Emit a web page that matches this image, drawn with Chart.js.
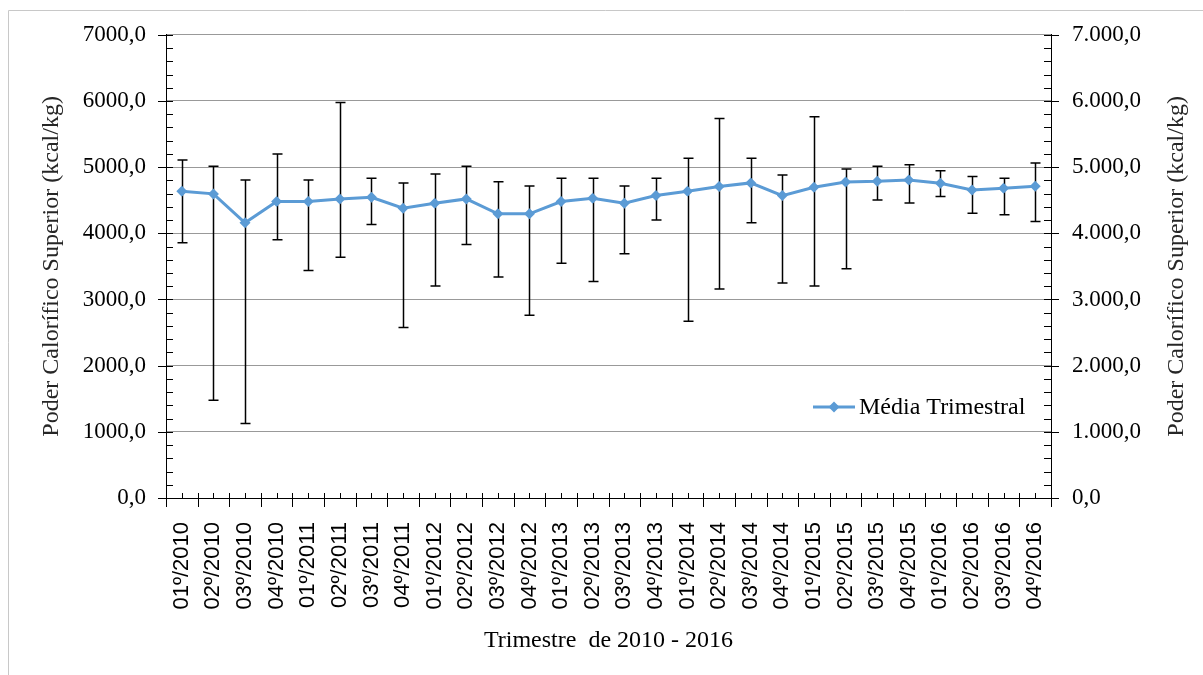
<!DOCTYPE html>
<html>
<head>
<meta charset="utf-8">
<script src="https://cdn.jsdelivr.net/npm/chart.js@4"></script>
<style>
  html, body { margin: 0; padding: 0; background: #fff; }
  #wrap { width: 1203px; height: 675px; }
</style>
</head>
<body>
<div id="wrap"><canvas id="grafico" width="1203" height="675"></canvas></div>
<script>
// trimestres 2010 - 2016
const trimestres = [
  "01º/2010", "02º/2010", "03º/2010", "04º/2010",
  "01º/2011", "02º/2011", "03º/2011", "04º/2011",
  "01º/2012", "02º/2012", "03º/2012", "04º/2012",
  "01º/2013", "02º/2013", "03º/2013", "04º/2013",
  "01º/2014", "02º/2014", "03º/2014", "04º/2014",
  "01º/2015", "02º/2015", "03º/2015", "04º/2015",
  "01º/2016", "02º/2016", "03º/2016", "04º/2016",
];
const mediaTrimestral = [
  4635, 4596, 4158, 4480, 4480, 4520, 4545, 4379, 4454, 4520, 4294, 4294, 4480, 4530,
  4454, 4570, 4635, 4706, 4762, 4570, 4696, 4776, 4786, 4807, 4756, 4656, 4681, 4711,
];
const erroMax = [
  5108, 5012, 4807, 5199, 4807, 5977, 4831, 4762, 4897, 5012, 4781, 4716, 4831, 4831,
  4716, 4831, 5133, 5736, 5133, 4882, 5762, 4972, 5012, 5038, 4947, 4857, 4831, 5063,
];
const erroMin = [
  3857, 1478, 1127, 3902, 3439, 3640, 4133, 2575, 3202, 3831, 3338, 2760, 3549, 3273,
  3690, 4203, 2670, 3157, 4158, 3248, 3202, 3464, 4505, 4460, 4555, 4303, 4279, 4178,
];
const ticksEsq = ["0,0", "1000,0", "2000,0", "3000,0", "4000,0", "5000,0", "6000,0", "7000,0"];
const ticksDir = ["0,0", "1.000,0", "2.000,0", "3.000,0", "4.000,0", "5.000,0", "6.000,0", "7.000,0"];

const AZUL = "#5b9bd5";
const SERIF = "'Liberation Serif', 'Times New Roman', serif";
const SANS = "'Liberation Sans', Arial, sans-serif";
const tituloY = "Poder Calorífico Superior (kcal/kg)";

// barras de erro, marcas dos eixos, moldura, titulo da direita e legenda
const extras = {
  id: "extras",
  beforeDraw(chart) {
    const ctx = chart.ctx;
    ctx.save();
    ctx.strokeStyle = "#c8c8c8";
    ctx.lineWidth = 1;
    ctx.beginPath();
    ctx.moveTo(8.5, 675);
    ctx.lineTo(8.5, 10.5);
    ctx.lineTo(1203, 10.5);
    ctx.stroke();
    ctx.restore();
  },
  beforeDatasetsDraw(chart) {
    const ctx = chart.ctx;
    const x = chart.scales.x;
    const y = chart.scales.y;
    ctx.save();
    ctx.strokeStyle = "#000";
    ctx.lineWidth = 1.5;
    trimestres.forEach((t, i) => {
      const px = Math.round(x.getPixelForValue(i)) + 0.5;
      const top = y.getPixelForValue(erroMax[i]);
      const bot = y.getPixelForValue(erroMin[i]);
      ctx.beginPath();
      ctx.moveTo(px, top);
      ctx.lineTo(px, bot);
      ctx.moveTo(px - 5, top);
      ctx.lineTo(px + 5, top);
      ctx.moveTo(px - 5, bot);
      ctx.lineTo(px + 5, bot);
      ctx.stroke();
    });
    ctx.restore();
  },
  afterDraw(chart) {
    const ctx = chart.ctx;
    const {x, y} = chart.scales;
    const area = chart.chartArea;
    ctx.save();
    ctx.strokeStyle = "#000";
    ctx.lineWidth = 1;
    ctx.beginPath();
    // marcas dos eixos verticais (principais cruzam, secundarias para dentro)
    for (let v = 0; v <= 7000; v += 200) {
      const py = Math.round(y.getPixelForValue(v)) + 0.5;
      const major = v % 1000 === 0;
      ctx.moveTo(area.left - (major ? 8 : 0), py);
      ctx.lineTo(area.left + 7, py);
      ctx.moveTo(area.right + (major ? 8 : 0), py);
      ctx.lineTo(area.right - 7, py);
    }
    // marcas do eixo horizontal
    const n = trimestres.length;
    const w = (area.right - area.left) / n;
    for (let i = 0; i <= n; i++) {
      const px = Math.round(area.left + i * w) + 0.5;
      ctx.moveTo(px, area.bottom - 5);
      ctx.lineTo(px, area.bottom + 9);
    }
    trimestres.forEach((t, i) => {
      const px = Math.round(x.getPixelForValue(i)) + 0.5;
      ctx.moveTo(px, area.bottom - 5);
      ctx.lineTo(px, area.bottom);
    });
    ctx.stroke();

    // titulo do eixo da direita (lido de baixo para cima)
    ctx.fillStyle = "#262626";
    ctx.font = "24px " + SERIF;
    ctx.textAlign = "center";
    ctx.textBaseline = "middle";
    ctx.translate(1177, (area.top + area.bottom) / 2);
    ctx.rotate(-Math.PI / 2);
    ctx.fillText(tituloY, 0, 0);
    ctx.restore();

    // legenda dentro da area
    ctx.save();
    const ly = 407;
    ctx.strokeStyle = AZUL;
    ctx.lineWidth = 3;
    ctx.beginPath();
    ctx.moveTo(813, ly);
    ctx.lineTo(855, ly);
    ctx.stroke();
    ctx.fillStyle = AZUL;
    ctx.beginPath();
    ctx.moveTo(834, ly - 5.5);
    ctx.lineTo(839.5, ly);
    ctx.lineTo(834, ly + 5.5);
    ctx.lineTo(828.5, ly);
    ctx.closePath();
    ctx.fill();
    ctx.fillStyle = "#000";
    ctx.font = "24px " + SERIF;
    ctx.textAlign = "left";
    ctx.textBaseline = "middle";
    ctx.fillText(chart.data.datasets[0].label, 859, ly + 1);
    ctx.restore();
  },
};

new Chart(document.getElementById("grafico"), {
  type: "line",
  data: {
    labels: trimestres,
    datasets: [
      {
        label: "Média Trimestral",
        data: mediaTrimestral,
        borderColor: AZUL,
        backgroundColor: AZUL,
        borderWidth: 3,
        pointStyle: "rectRot",
        pointRadius: 5.5,
        pointBorderWidth: 0,
        pointBackgroundColor: AZUL,
        tension: 0,
        fill: false,
        yAxisID: "y",
      },
    ],
  },
  options: {
    responsive: false,
    devicePixelRatio: 1,
    animation: false,
    layout: { padding: { top: 34, left: 0, right: 0, bottom: 0 } },
    plugins: {
      legend: { display: false },
      tooltip: { enabled: false },
    },
    scales: {
      x: {
        type: "category",
        offset: true,
        grid: { display: false, drawTicks: false },
        border: { display: true, color: "#000", width: 1 },
        ticks: {
          autoSkip: false,
          minRotation: 90,
          maxRotation: 90,
          padding: 24,
          color: "#000",
          font: { family: SANS, size: 22 },
        },
        title: {
          display: true,
          text: "Trimestre  de 2010 - 2016",
          color: "#000",
          font: { family: SERIF, size: 24 },
          padding: { top: 0, bottom: 20 },
        },
        afterFit(scale) { scale.height = 177; },
      },
      y: {
        position: "left",
        min: 0,
        max: 7000,
        ticks: {
          stepSize: 1000,
          padding: 20,
          color: "#000",
          font: { family: SERIF, size: 23 },
          callback: (v) => ticksEsq[v / 1000],
        },
        grid: { color: "#999", lineWidth: 1, drawTicks: false },
        border: { display: true, color: "#000", width: 1 },
        title: {
          display: true,
          text: tituloY,
          color: "#262626",
          font: { family: SERIF, size: 24 },
          padding: { top: 37, bottom: 0 },
        },
        afterFit(scale) { scale.width = 166; },
      },
      y2: {
        position: "right",
        min: 0,
        max: 7000,
        ticks: {
          stepSize: 1000,
          padding: 21,
          color: "#000",
          font: { family: SERIF, size: 23 },
          callback: (v) => ticksDir[v / 1000],
        },
        grid: { display: false, drawTicks: false },
        border: { display: true, color: "#000", width: 1 },
        afterFit(scale) { scale.width = 152; },
      },
    },
  },
  plugins: [extras],
});
</script>
</body>
</html>
